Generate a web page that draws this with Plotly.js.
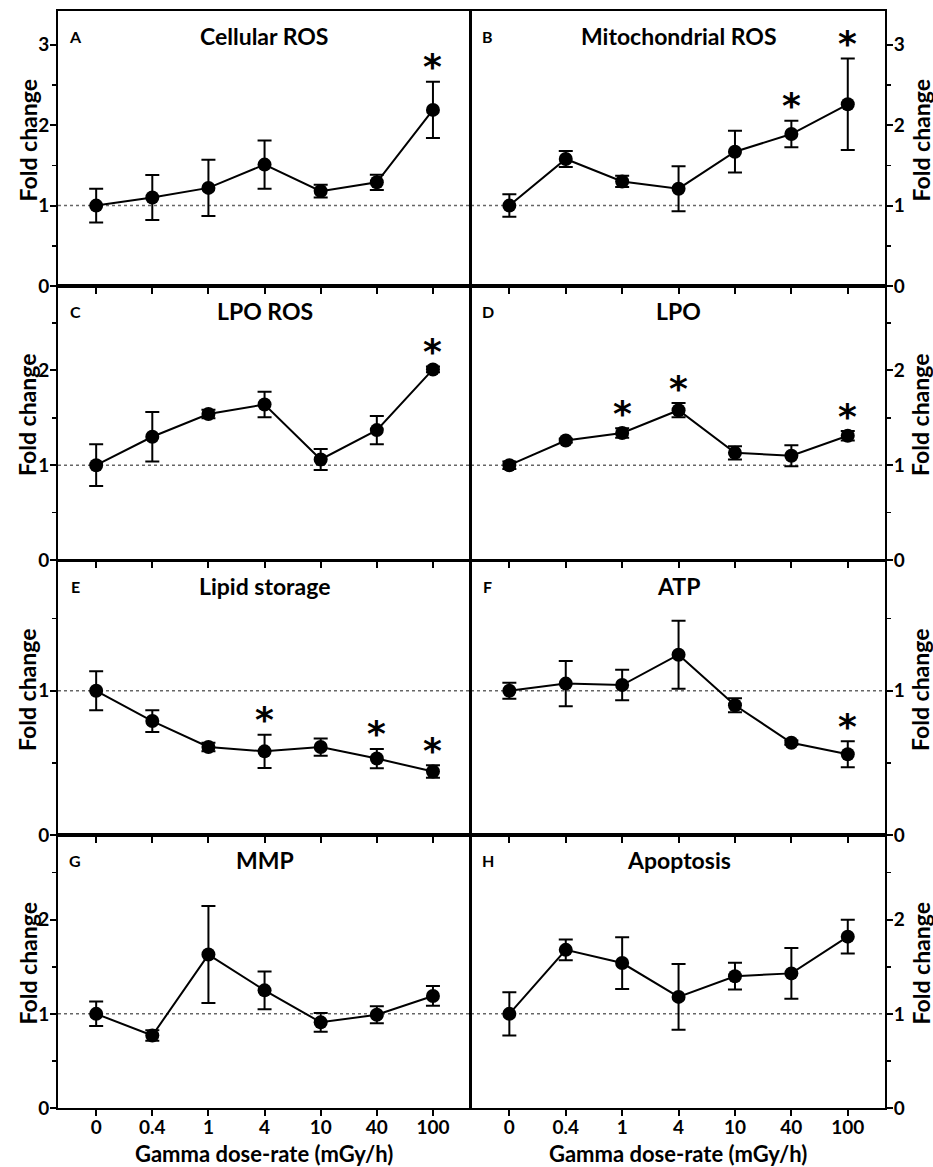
<!DOCTYPE html>
<html>
<head>
<meta charset="utf-8">
<script src="https://cdn.plot.ly/plotly-3.0.1.min.js"></script>
<style>html,body{margin:0;padding:0;background:#fff;}#chart{width:933px;height:1167px;}</style>
</head>
<body>
<div id="chart"></div>
<script>
// ---- data ----
const doses = ["0", "0.4", "1", "4", "10", "40", "100"];

const cellularROS    = [1.00, 1.10, 1.22, 1.51, 1.18, 1.29, 2.19];
const cellularROSErr = [0.21, 0.28, 0.35, 0.30, 0.08, 0.095, 0.35];
const cellularROSSig = [0, 0, 0, 0, 0, 0, 1];

const mitoROS    = [1.00, 1.58, 1.30, 1.21, 1.67, 1.89, 2.26];
const mitoROSErr = [0.14, 0.10, 0.07, 0.28, 0.26, 0.165, 0.57];
const mitoROSSig = [0, 0, 0, 0, 0, 1, 1];

const lpoROS    = [1.00, 1.30, 1.54, 1.64, 1.06, 1.37, 2.01];
const lpoROSErr = [0.22, 0.26, 0.045, 0.135, 0.11, 0.15, 0.03];
const lpoROSSig = [0, 0, 0, 0, 0, 0, 1];

const lpo    = [1.00, 1.26, 1.34, 1.58, 1.13, 1.10, 1.31];
const lpoErr = [0.04, 0.02, 0.05, 0.075, 0.07, 0.11, 0.05];
const lpoSig = [0, 0, 1, 1, 0, 0, 1];

const lipidStorage    = [1.00, 0.79, 0.61, 0.58, 0.61, 0.53, 0.44];
const lipidStorageErr = [0.135, 0.075, 0.03, 0.115, 0.06, 0.067, 0.043];
const lipidStorageSig = [0, 0, 0, 1, 0, 1, 1];

const atp    = [1.00, 1.05, 1.04, 1.25, 0.90, 0.64, 0.56];
const atpErr = [0.055, 0.157, 0.106, 0.235, 0.048, 0.015, 0.09];
const atpSig = [0, 0, 0, 0, 0, 0, 1];

const mmp    = [1.00, 0.77, 1.63, 1.25, 0.91, 0.99, 1.19];
const mmpErr = [0.13, 0.055, 0.515, 0.20, 0.10, 0.09, 0.105];
const mmpSig = [0, 0, 0, 0, 0, 0, 0];

const apoptosis    = [1.00, 1.68, 1.54, 1.18, 1.40, 1.43, 1.82];
const apoptosisErr = [0.23, 0.11, 0.275, 0.35, 0.142, 0.27, 0.18];
const apoptosisSig = [0, 0, 0, 0, 0, 0, 0];

const panelLetters = ["A", "B", "C", "D", "E", "F", "G", "H"];
const panelTitles = ["Cellular ROS", "Mitochondrial ROS", "LPO ROS", "LPO",
                     "Lipid storage", "ATP", "MMP", "Apoptosis"];
const yAxisTitle = "Fold change";
const xAxisTitle = "Gamma dose-rate (mGy/h)";

// ---- build ----
const panels = [
  [cellularROS, cellularROSErr, cellularROSSig],
  [mitoROS, mitoROSErr, mitoROSSig],
  [lpoROS, lpoROSErr, lpoROSSig],
  [lpo, lpoErr, lpoSig],
  [lipidStorage, lipidStorageErr, lipidStorageSig],
  [atp, atpErr, atpSig],
  [mmp, mmpErr, mmpSig],
  [apoptosis, apoptosisErr, apoptosisSig]
];
const yTop = [3.42, 3.42, 2.89, 2.89, 1.9, 1.9, 2.9, 2.9];

const W = 933, H = 1167;
const colPx = [[58, 470], [471, 885]];
const rowPx = [[11, 286], [286, 560], [561, 835], [835, 1108]];
const yTitleX = [27, 920];

const FONT = "Lato, 'Open Sans', sans-serif";
const traces = [];
const annotations = [];
const shapes = [];
const layout = {
  width: W, height: H,
  margin: {l: 0, r: 0, t: 0, b: 0},
  paper_bgcolor: "#fff", plot_bgcolor: "#fff",
  showlegend: false,
  font: {family: FONT, color: "#000"}
};

panels.forEach((p, i) => {
  const col = i % 2, row = Math.floor(i / 2);
  const sfx = i === 0 ? "" : String(i + 1);
  const xa = "x" + sfx, ya = "y" + sfx;
  const [vals, errs, sig] = p;

  traces.push({
    type: "scatter", mode: "lines+markers",
    x: doses, y: vals, xaxis: xa, yaxis: ya,
    line: {color: "#000", width: 2},
    marker: {color: "#000", size: 14},
    error_y: {type: "data", array: errs, visible: true, color: "#000", thickness: 2, width: 7},
    cliponaxis: false, hoverinfo: "skip"
  });

  const xd = [colPx[col][0] / W, colPx[col][1] / W];
  const yd = [1 - rowPx[row][1] / H, 1 - rowPx[row][0] / H];
  const bottom = row === 3;

  layout["xaxis" + sfx] = {
    domain: xd, anchor: ya, type: "category",
    range: [-0.68, 6.66],
    showline: true, linecolor: "#000", linewidth: 2, mirror: true,
    ticks: "outside", ticklen: 6, tickwidth: 2, tickcolor: "#000",
    showticklabels: bottom, ticklabelstandoff: -5,
    tickfont: {family: FONT, size: 19, weight: "bold", color: "#000"},
    showgrid: false, zeroline: false, fixedrange: true, automargin: false
  };
  layout["yaxis" + sfx] = {
    domain: yd, anchor: xa, side: col === 0 ? "left" : "right",
    range: [0, yTop[i]], dtick: 1, tick0: 0,
    showline: true, linecolor: "#000", linewidth: 2, mirror: true,
    ticks: "outside", ticklen: 6, tickwidth: 2, tickcolor: "#000",
    ticklabelstandoff: -3,
    minor: {dtick: 0.5, ticks: "outside", ticklen: 4, tickwidth: 1.5, tickcolor: "#000", showgrid: false},
    tickfont: {family: FONT, size: 19, weight: "bold", color: "#000"},
    showgrid: false, zeroline: false, fixedrange: true, automargin: false
  };

  // y-axis title
  annotations.push({
    text: yAxisTitle, textangle: -90, xref: "paper", yref: ya + " domain",
    x: yTitleX[col] / W, y: 0.5, yshift: 8, xanchor: "center", yanchor: "middle",
    showarrow: false, font: {family: FONT, size: 23, weight: "bold", color: "#000"}
  });

  // reference line at 1
  shapes.push({
    type: "line", xref: xa + " domain", yref: ya, x0: 0, x1: 1, y0: 1, y1: 1,
    line: {color: "#666", width: 1.5, dash: "dot"}, layer: "below"
  });

  // panel letter & title
  annotations.push({
    text: panelLetters[i], xref: xa + " domain", yref: ya + " domain",
    x: 0, y: 1, xshift: 17, yshift: -25, xanchor: "center", yanchor: "middle",
    showarrow: false, font: {family: FONT, size: 16, weight: "bold", color: "#000"}
  });
  annotations.push({
    text: panelTitles[i], xref: xa, yref: ya + " domain",
    x: 3, y: 1, yshift: -25, xanchor: "center", yanchor: "middle",
    showarrow: false, font: {family: FONT, size: 23, weight: "bold", color: "#000"}
  });

  // significance asterisks
  sig.forEach((s, k) => {
    if (!s) return;
    annotations.push({
      text: "*", xref: xa, yref: ya, x: k, y: vals[k] + errs[k],
      xanchor: "center", yanchor: "middle", yshift: 15,
      showarrow: false, font: {family: "'DejaVu Sans', sans-serif", size: 36, weight: "bold", color: "#000"}
    });
  });

  // x-axis title on bottom row
  if (bottom) {
    annotations.push({
      text: xAxisTitle, xref: xa + " domain", yref: "paper",
      x: 0.5, y: 1 - 1153 / H, xanchor: "center", yanchor: "middle",
      showarrow: false, font: {family: FONT, size: 22, weight: "bold", color: "#000"}
    });
  }
});

layout.annotations = annotations;
layout.shapes = shapes;

Plotly.newPlot("chart", traces, layout, {staticPlot: true, displayModeBar: false});
</script>
</body>
</html>
